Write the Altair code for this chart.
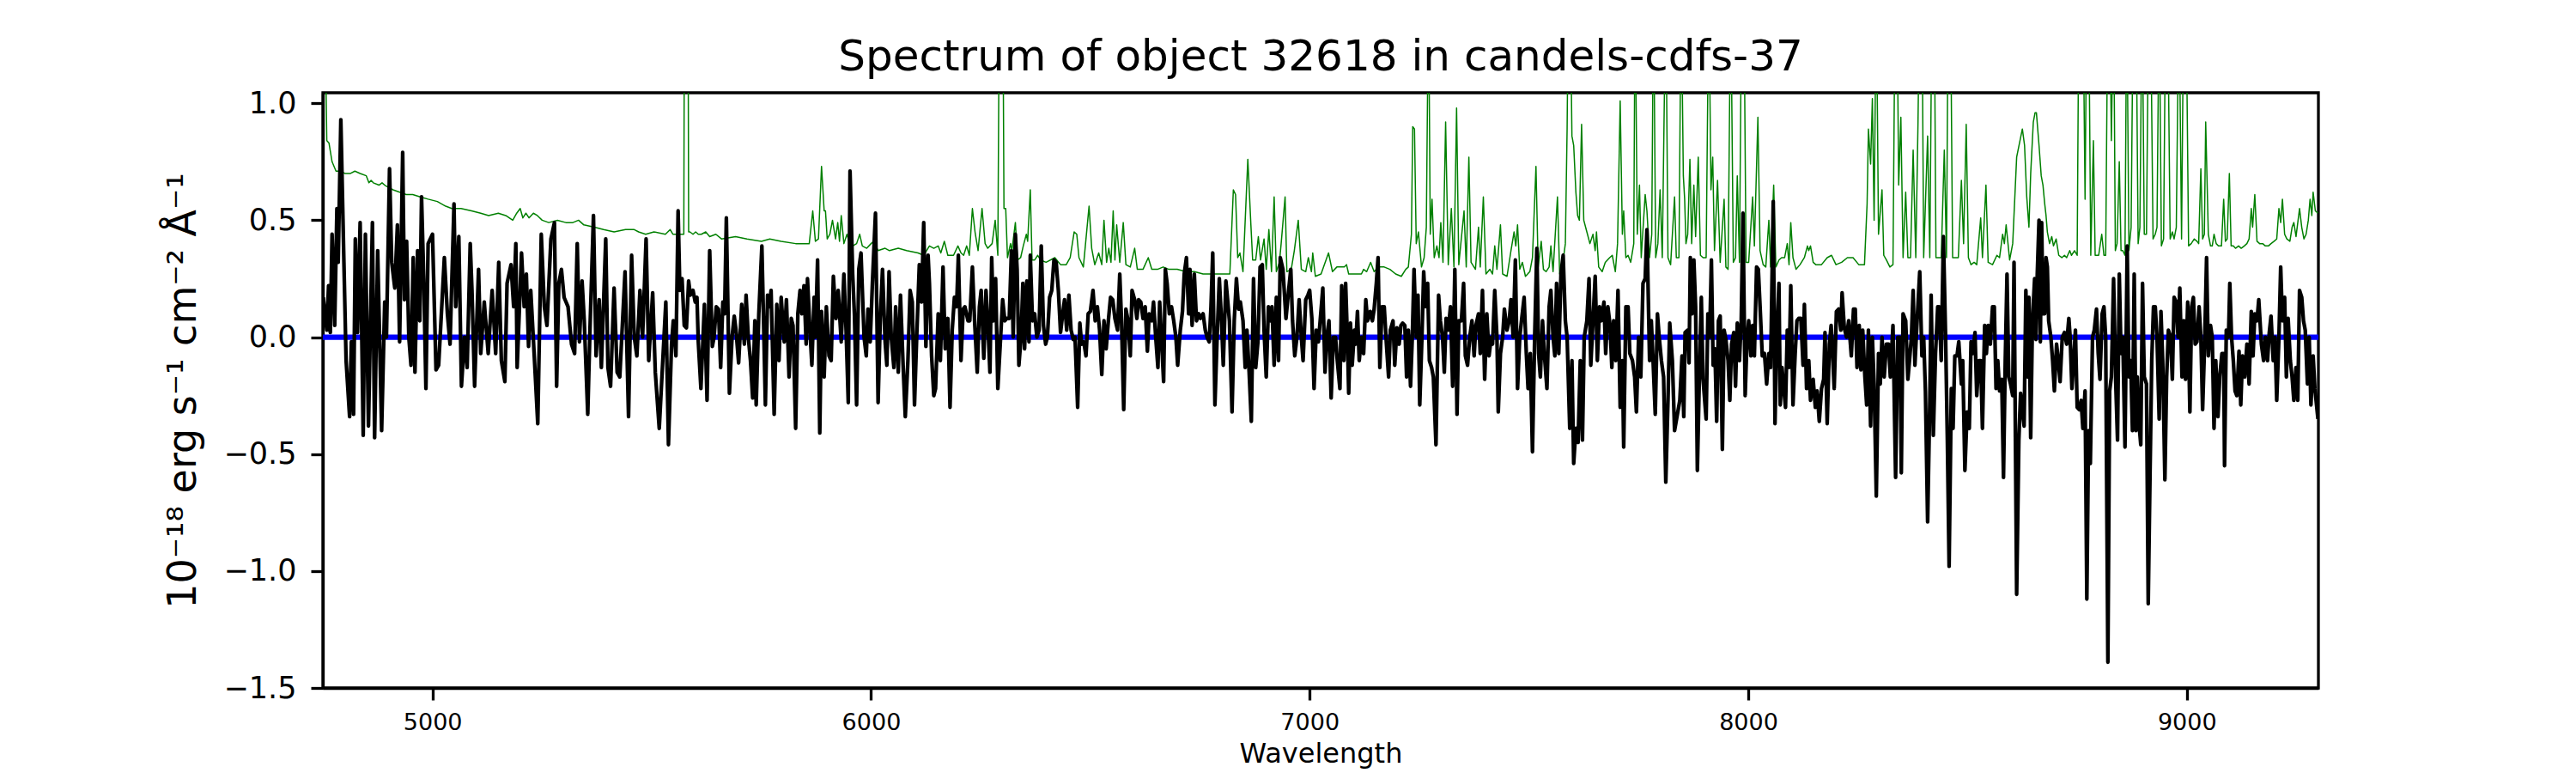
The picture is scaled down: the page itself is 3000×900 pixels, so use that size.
import altair as alt
import pandas as pd

# ---------------- data ----------------
# observed spectrum (black)
flux_wave = [
4751,4759,4763,4767,4771,4777,4782,4785,4791,4798,4803,4811,4815,4820,4824,4829,4835,4842,4847,4854,
4863,4868,4875,4884,4891,4895,4902,4907,4914,4920,4925,4932,4936,4941,4946,4951,4956,4960,4966,4971,
4975,4980,4985,4990,5000,5008,5014,5027,5034,5040,5049,5053,5060,5066,5073,5079,5086,5090,5096,5105,
5110,5118,5127,5136,5144,5151,5157,5165,5170,5179,5185,5190,5193,5203,5209,5214,5219,5224,5232,5240,
5248,5255,5261,5270,5278,5283,5288,5294,5300,5309,5317,5324,5330,5335,5341,5346,5354,5359,5367,5373,
5380,5385,5395,5400,5406,5414,5421,5427,5439,5447,5454,5460,5466,5473,5479,5487,5493,5502,5508,5517,
5532,5538,5545,5549,5555,5560,5564,5569,5574,5579,5584,5588,5594,5599,5603,5606,5612,5620,5626,5632,
5638,5642,5647,5652,5657,5662,5666,5670,5677,5683,5688,5692,5698,5705,5711,5715,5720,5725,5730,5735,
5738,5744,5751,5756,5759,5764,5768,5772,5779,5785,5790,5795,5802,5807,5813,5818,5822,5828,5833,5838,
5842,5847,5852,5855,5860,5865,5870,5873,5878,5883,5887,5893,5898,5904,5909,5914,5920,5925,5932,5938,
5943,5948,5952,5958,5962,5967,5972,5977,5984,5989,5993,5998,6003,6010,6016,6021,6026,6032,6036,6041,
6046,6052,6056,6062,6067,6073,6078,6084,6089,6094,6099,6104,6110,6115,6120,6125,6130,6133,6138,6143,
6147,6153,6158,6164,6169,6175,6180,6185,6190,6195,6199,6205,6210,6214,6221,6225,6231,6236,6242,6247,
6251,6257,6262,6266,6271,6275,6279,6284,6289,
6300,6305,6309,6315,6320,6324,6329,6333,6337,6342,6346,6350,6355,6360,6363,6368,6373,6378,6383,6388,
6393,6398,6402,6407,6412,6417,6422,6427,6432,6437,6441,6446,6451,6456,6461,6465,6471,6476,6480,6485,
6490,6495,6500,6506,6511,6516,6521,6526,6531,6536,6541,6546,6551,6556,6562,6567,6571,6576,6581,6586,
6591,6595,6601,6606,6610,6615,6620,6625,6630,6634,6640,6644,6649,6654,6658,6662,6667,6671,6675,6680,
6685,6690,6695,6699,6705,6710,6714,6719,6724,6727,6732,6737,6742,6747,6751,6757,6762,6766,6771,6775,
6779,6784,6789,6794,6799,6803,6809,6812,6817,6823,6828,6833,6838,6842,6848,6853,6857,6862,6867,6872,
6877,6882,6887,6892,6896,6901,6906,6911,6914,6919,6924,6929,6933,6939,6942,6946,6952,6957,6961,6966,
6971,6976,6981,6985,6991,6996,7000,7005,7010,7015,7020,7024,7030,7035,7039,7044,7049,7054,7059,7063,
7069,7073,
7078,7082,7086,7089,7093,7097,7102,7105,7109,7113,7118,7123,7128,7132,7138,7143,7147,7152,7156,7160,
7165,7170,7175,7180,7184,7190,7194,7199,7204,7208,7212,7217,7221,7225,7230,7234,7238,7243,7247,7251,
7256,7260,7264,7269,7273,7278,7282,7288,7294,7298,7303,7307,7311,7316,7321,7326,7331,7336,7340,7346,
7351,7355,7360,7365,7370,7375,7379,7385,7389,7394,7399,7404,7409,7414,7417,7422,7427,7430,7435,7440,
7444,7450,7455,7459,7464,7469,7474,7479,7483,7489,7494,7498,7503,7508,7513,7518,7522,7526,7531,7535,
7541,7546,7550,7555,7559,7563,7568,7573,7578,7583,7587,7593,7598,7602,7607,7612,7617,7622,7626,7632,
7637,7641,7646,7651,7656,7661,7665,7671,7675,7680,7685,7689,7693,7698,7703,7708,7713,7716,7721,7726,
7730,7736,7741,7745,7750,7755,7760,7765,7769,7775,7779,7783,7788,7793,7797,7802,7807,7812,7817,7821,
7827,7832,
7844,7849,7853,7856,7862,7865,7868,7872,7876,7880,7884,7889,7893,7897,7904,7908,7912,7916,7920,7924,
7928,7932,7936,7941,7945,7949,7954,7958,7962,7967,7971,7975,7980,7984,7988,7993,7997,8001,8006,8010,
8014,8019,8023,8027,8032,8037,8042,8047,8051,8057,8061,8065,8070,8073,8077,8081,8085,8089,8093,8097,
8102,8107,8111,8115,8120,8125,8128,8133,8138,8142,8148,8153,8157,8162,8167,8172,8175,8180,8185,8189,
8193,8196,8201,8206,8211,8214,8219,8224,8229,8235,8240,8244,8248,8253,8257,8261,8266,8270,8274,8279,
8283,8287,8292,8297,8301,8305,8310,8315,8320,8324,8330,8336,8341,8346,8349,8353,8359,8364,8369,8372,
8376,8380,8385,8391,8396,8400,8404,8409,8414,8417,8422,8427,8432,8435,8440,8445,8450,8454,8458,8463,
8467,8471,8476,8480,8486,8489,8494,8499,8504,8508,8512,8517,8521,8526,8530,8534,8539,8543,8547,8552,
8557,8561,8565,8569,8573,8578,8582,8586,8590,8594,8598,8603,8606,8612,8617,8621,
8629,8633,8637,8640,8644,8648,8653,8656,8659,8663,8666,8669,8672,8676,8679,8682,8685,8690,8694,8698,
8703,8707,8711,8716,8721,8726,8731,8734,8738,8742,8746,8750,8755,8759,8763,8768,8772,8776,8780,8785,
8789,8794,8798,8802,8807,8811,8815,8820,8824,8828,8833,8838,8842,8846,8850,8854,8859,8864,8868,8872,
8876,8880,8884,8887,8891,8895,8899,8903,8908,8912,8916,8920,8924,8928,8932,8937,8941,8945,8950,8954,
8958,8963,8967,8971,8976,8980,8984,8989,8993,8997,9002,9007,9011,9015,9019,9023,9028,9032,9036,9041,
9045,9049,9054,9058,9062,9066,9071,9075,9080,9084,9086,9090,9095,9098,9102,9106,9110,9114,9119,9123,
9127,9132,9137,9142,9147,9151,9155,9160,9164,9170,9175,9179,9184,9188,9192,9197,9201,9205,9210,9214,
9218,9223,9227,9231,9236,9240,9244,9249,9253,9257,9262,9266,9270,9275,9279,9283,9288,9292,9299,
]
flux_value = [
0.17,0.03,0.22,0.02,0.44,0.05,0.55,0.32,0.93,0.32,-0.10,-0.34,-0.02,-0.33,0.42,0.02,0.49,-0.42,0.44,-0.38,
0.49,-0.43,0.37,-0.40,0.15,0.0,0.72,0.32,0.21,0.48,-0.02,0.79,0.16,0.41,0.0,-0.12,0.34,-0.15,0.37,0.07,
0.60,0.25,-0.22,0.40,0.44,-0.14,-0.12,0.34,0.10,-0.03,0.57,0.13,0.43,-0.21,0.0,-0.13,0.40,0.20,-0.21,0.29,
-0.07,0.15,-0.07,0.20,-0.07,0.32,-0.10,-0.19,0.23,0.31,0.13,0.40,-0.13,0.36,0.13,0.27,-0.04,0.20,-0.08,-0.37,
0.44,0.13,0.05,0.42,0.49,-0.21,0.23,0.29,0.17,0.13,-0.03,-0.07,0.40,-0.02,0.24,0.07,-0.33,0.03,0.52,-0.08,
0.16,-0.13,0.42,-0.13,-0.21,0.21,-0.15,-0.17,0.28,-0.34,0.35,0.0,-0.08,0.20,0.0,0.42,-0.10,0.19,-0.15,-0.39,
0.15,-0.46,-0.03,0.07,-0.08,0.54,0.20,0.25,0.05,0.04,0.24,0.18,0.20,0.15,0.17,-0.02,-0.22,0.14,-0.27,0.37,
-0.04,0.0,0.13,0.12,-0.13,0.15,0.10,0.51,-0.24,0.0,0.09,0.03,-0.11,0.14,-0.03,0.18,0.0,-0.10,-0.26,0.07,
-0.29,0.10,0.39,-0.03,-0.29,0.18,0.13,0.20,-0.33,0.14,-0.10,0.17,-0.02,0.16,-0.17,0.08,0.05,-0.39,0.10,0.20,
0.10,0.22,-0.03,0.25,0.05,-0.12,0.17,0.0,0.33,-0.41,0.11,-0.17,0.13,-0.08,-0.10,0.26,0.08,0.20,-0.02,0.27,
0.03,-0.28,0.71,0.27,0.10,-0.29,0.29,0.36,0.0,-0.08,0.12,-0.02,0.23,0.53,-0.28,0.08,0.29,-0.02,-0.12,0.28,
0.0,-0.13,0.13,-0.15,0.18,-0.12,-0.34,-0.10,0.20,0.15,-0.29,0.0,0.31,0.15,0.49,-0.04,0.35,0.23,-0.08,-0.25,
-0.22,0.10,-0.10,0.30,-0.05,0.08,-0.30,0.03,0.17,0.13,0.35,-0.10,0.12,0.13,0.07,0.07,0.30,0.07,-0.15,0.13,
0.20,-0.09,0.20,0.07,-0.15,0.34,0.07,0.25,-0.22,
0.16,0.07,0.08,0.08,0.37,0.0,0.44,0.29,-0.12,0.0,0.23,-0.05,0.24,-0.02,0.35,0.07,0.10,0.0,0.03,0.39,
0.05,-0.03,0.0,0.17,0.20,0.33,0.32,0.20,0.02,0.10,0.16,0.03,0.18,0.03,-0.01,0.0,-0.30,0.06,-0.03,-0.02,
-0.08,0.10,0.11,0.20,0.07,0.13,0.03,-0.16,0.07,-0.05,0.07,0.17,0.16,0.08,0.03,0.27,0.07,-0.31,0.12,0.07,
-0.08,0.20,0.16,0.08,0.16,0.15,0.08,0.13,-0.06,0.10,0.07,0.15,0.0,-0.13,0.15,0.0,-0.19,0.29,0.23,0.10,
0.13,0.07,0.0,-0.12,0.03,0.11,0.27,0.34,0.10,0.29,0.05,0.27,0.07,0.10,0.08,0.10,0.03,0.0,-0.02,0.13,
0.36,-0.29,0.0,0.25,0.07,-0.12,0.24,0.18,0.07,-0.32,0.07,0.25,0.12,0.15,0.07,-0.13,0.03,-0.15,-0.36,0.25,
-0.13,-0.02,0.30,0.31,0.03,-0.17,0.13,0.07,0.13,-0.12,0.17,-0.10,0.34,0.29,0.20,0.08,0.20,0.29,0.07,-0.08,
0.0,0.16,0.0,-0.10,0.16,0.18,0.20,0.08,-0.22,0.03,-0.02,0.07,0.21,-0.15,0.0,0.07,-0.26,0.0,0.0,-0.10,
-0.22,0.22,
-0.10,0.23,0.0,-0.24,0.06,-0.12,0.03,-0.03,0.11,-0.10,0.0,-0.07,0.16,0.07,0.11,0.07,0.12,0.23,0.34,-0.13,
0.13,0.13,-0.03,-0.17,0.03,0.07,-0.12,0.04,-0.03,0.05,0.06,0.05,-0.17,0.03,-0.21,0.0,0.29,0.0,0.18,-0.29,
0.0,0.28,0.13,0.23,-0.10,-0.13,-0.17,-0.46,0.18,0.07,0.0,-0.15,0.08,0.03,0.13,-0.21,0.29,-0.33,0.07,0.07,
0.23,-0.08,-0.12,0.0,0.07,-0.08,0.05,0.10,-0.07,0.20,-0.18,0.10,-0.08,0.0,-0.03,0.20,0.0,-0.32,-0.07,0.0,
0.12,0.03,0.07,0.16,0.0,0.33,-0.22,0.0,0.07,0.17,-0.07,-0.22,-0.07,-0.49,0.0,0.38,-0.07,-0.17,0.07,-0.07,
-0.22,0.13,0.20,0.0,-0.08,0.23,-0.07,0.27,0.35,0.07,0.0,-0.39,-0.10,-0.54,-0.39,-0.45,-0.10,-0.44,0.0,0.07,
0.25,-0.12,0.07,0.26,-0.10,0.13,0.07,0.15,-0.07,0.13,0.05,-0.13,0.07,-0.10,0.20,-0.30,-0.10,-0.47,0.13,0.13,
-0.07,-0.10,-0.17,-0.32,0.0,-0.17,0.23,0.25,0.46,-0.10,0.07,-0.10,-0.33,0.10,0.0,-0.10,-0.17,-0.62,-0.27,0.06,
-0.10,-0.40,
-0.27,-0.08,-0.34,0.02,0.03,-0.11,0.34,0.10,0.33,0.13,-0.57,-0.13,0.17,-0.18,-0.35,0.10,0.0,0.33,-0.12,-0.05,
-0.36,0.07,0.09,-0.48,0.03,-0.01,-0.10,-0.27,-0.03,0.02,-0.21,0.06,-0.10,0.07,0.53,-0.25,-0.02,0.07,-0.08,0.05,
-0.08,0.30,0.29,0.13,-0.08,-0.07,-0.20,-0.07,-0.13,0.58,-0.37,0.0,0.23,-0.29,-0.13,-0.22,-0.30,0.03,-0.13,0.22,
-0.29,-0.07,0.07,0.08,0.08,-0.12,0.14,-0.22,-0.10,-0.27,-0.18,-0.30,-0.23,-0.36,-0.22,-0.18,0.02,-0.37,-0.03,0.05,
-0.10,-0.22,0.11,0.12,0.03,0.19,0.04,0.0,0.07,-0.08,0.12,0.12,-0.13,0.05,-0.14,0.03,-0.17,-0.29,0.03,-0.38,
0.0,-0.20,-0.68,-0.07,-0.20,0.0,-0.17,-0.03,-0.03,-0.17,0.05,-0.60,0.0,0.0,-0.58,0.10,0.07,-0.18,-0.07,0.0,
0.20,-0.12,0.07,0.28,-0.08,0.0,-0.23,-0.79,-0.27,0.18,-0.42,-0.07,0.13,0.13,-0.10,0.43,0.0,-0.44,-0.98,-0.22,
-0.39,-0.08,-0.08,-0.02,-0.20,-0.10,-0.57,-0.32,-0.39,-0.02,-0.07,0.02,-0.25,-0.10,-0.10,-0.39,0.05,-0.07,0.05,-0.03,
0.13,0.13,-0.22,-0.10,-0.23,-0.18,-0.60,-0.10,0.27,-0.17,-0.20,-0.25,0.32,-1.10,-0.44,-0.24,
-0.38,0.20,-0.17,0.17,-0.43,0.07,0.25,-0.01,0.27,0.50,-0.02,0.49,0.10,0.10,0.34,0.30,0.07,0.0,-0.10,-0.23,
-0.03,-0.10,-0.19,0.0,0.02,-0.03,0.08,0.0,-0.22,-0.10,0.03,-0.30,-0.31,-0.27,-0.39,-0.23,-1.12,-0.40,-0.54,0.0,
0.03,0.12,-0.07,-0.18,0.10,0.13,0.0,-1.39,-0.23,-0.17,0.25,-0.20,-0.44,0.27,-0.07,0.0,-0.47,0.39,-0.17,-0.10,
-0.40,0.27,-0.40,-0.17,-0.37,-0.46,0.23,-0.17,-0.20,-1.14,-0.60,-0.10,0.13,0.13,0.0,-0.35,0.11,-0.10,-0.61,-0.17,
0.03,0.0,-0.18,0.17,0.15,0.0,0.21,-0.17,0.07,-0.18,0.15,-0.32,0.13,0.17,-0.03,-0.02,0.13,0.0,-0.31,0.0,
0.34,-0.08,0.05,0.0,-0.39,-0.10,-0.34,-0.17,-0.07,-0.07,-0.55,0.03,0.0,0.23,0.0,-0.10,-0.23,-0.25,-0.06,-0.29,
-0.08,-0.17,-0.03,-0.20,0.11,-0.08,0.10,0.07,0.16,-0.03,-0.10,0.0,-0.10,0.02,0.09,-0.10,0.0,-0.27,0.0,0.30,
0.07,0.17,-0.17,0.08,-0.10,-0.17,-0.27,-0.13,-0.27,0.20,0.17,0.07,0.03,-0.20,0.0,-0.29,-0.08,-0.22,-0.35,
]

# noise / sky spectrum (green)
sky_wave = [
4750,4757,4759,4764,4771,4780,4790,4800,4813,4823,4835,4849,4855,4860,4865,4878,4885,4891,4900,4910,
4925,4940,4955,4972,4990,5011,5030,5044,5065,5089,5110,5128,5150,5167,5183,5192,5200,5206,5213,5220,
5230,5239,5250,5265,5285,5304,5320,5333,5345,5369,5390,5414,5440,5460,5470,5486,5505,5531,
5542,5548,5571,5573,5575,5582,5584,5587,5594,5600,5606,5613,5623,5632,5646,5659,5691,5717,5750,5769,
5795,5828,5859,5867,5873,5880,5887,5893,5896,5900,5906,5912,5919,5924,5928,5932,5938,5945,5951,5958,
5967,5974,5980,5990,6000,6006,6016,6032,6042,6062,6081,6107,6120,6133,6143,6153,6159,6167,6175,6188,
6198,6205,6211,6218,6224,6231,6237,6244,6253,6260,6266,6276,6283,6289,6294,6299,
6303,6307,6311,6318,6321,6329,6334,6341,6347,6354,6357,6363,6367,6373,6380,6386,6399,6419,6432,6445,
6454,6463,6469,6474,6484,6497,6503,6510,6519,6526,6531,6537,6542,6547,6552,6556,6560,6567,6575,6581,
6591,6601,6607,6620,6632,6640,6653,6666,6679,6698,6718,6737,6757,6783,6818,6826,6831,6836,6841,6848,
6859,6866,6870,6877,6883,6888,6896,6901,6907,6913,6919,6924,6931,6935,6944,6948,6958,6965,6974,6981,
6991,6997,7004,7007,7013,7026,7043,7052,7062,
7079,7084,7089,7105,7118,7123,7130,7139,7147,7157,7170,7183,7196,7209,7219,7225,7232,7235,7239,7243,
7248,7255,7261,7266,7271,7275,7279,7284,7290,7295,7299,7304,7310,7316,7323,7329,7335,7340,7352,7357,
7363,7368,7378,7385,7389,7396,7402,7411,7417,7422,7427,7435,7440,7450,7459,7466,7470,7474,7479,7485,
7492,7502,7508,7516,7521,7528,7533,7539,7546,7550,7555,7565,7570,7576,7583,7587,7590,7594,7598,7602,
7607,7611,7615,7620,7625,7632,7639,7646,7651,7654,7659,7667,7674,7684,7690,7697,7702,7708,7713,7716,
7721,7726,7732,7739,7742,7747,7752,7756,7765,7769,7775,7780,7784,7789,7794,7799,7804,7812,7817,7823,
7832,7836,
7842,7847,7852,7855,7858,7862,7867,7871,7876,7880,7886,7891,7897,7904,7910,7915,7919,7923,7930,7936,
7945,7949,7954,7960,7966,7971,7975,7980,7985,7990,7995,8001,8010,8014,8022,8027,8034,8040,8047,8051,
8058,8063,8070,8076,8083,8089,8093,8097,8102,8109,8118,8128,8135,8138,8142,8148,8154,8167,8180,8190,
8200,8213,8226,8239,8252,8265,8271,8274,8279,8283,8287,8292,8297,8305,8309,8315,8323,8330,8335,8339,
8343,8348,8353,8359,8364,8370,8376,8382,8387,8391,8396,8400,8409,8414,8419,8424,8428,8435,8440,8447,
8452,8456,8461,8466,8473,8479,8486,8491,8497,8502,8508,8515,8521,8530,8534,8542,8547,8557,8567,8573,
8580,8584,8588,8596,8603,8612,
8625,8630,8635,8640,8644,8650,8654,8657,8663,8668,8672,8676,8679,8682,8687,8692,8696,8702,8708,8715,
8721,8726,8733,8737,8744,8750,8754,8759,8763,8768,8772,8776,8781,8787,8791,8799,8806,8811,8815,8820,
8824,8828,8833,8837,8841,8846,8850,8854,8859,8863,8868,8873,8878,8884,8889,8893,8898,8903,8908,8913,
8917,8923,8928,8932,8937,8942,8947,8952,8956,8962,8967,8971,8976,8982,8988,8993,8998,9004,9010,9017,
9023,9027,9032,9036,9040,9043,9049,9054,9058,9062,9067,9072,9079,9084,9088,9092,9097,9101,9106,9111,
9118,9124,9131,9137,9142,9147,9150,9155,9160,9166,9173,9179,9186,9192,9199,9205,9210,9214,9218,9223,
9228,9235,9240,9244,9249,9253,9257,9262,9267,9272,9277,9281,9285,9288,9293,9299,
]
sky_value = [
1.5,1.1,0.84,0.83,0.75,0.71,0.71,0.70,0.70,0.71,0.70,0.69,0.66,0.67,0.66,0.65,0.66,0.65,0.64,0.63,
0.62,0.61,0.61,0.60,0.59,0.58,0.56,0.55,0.55,0.54,0.53,0.52,0.53,0.52,0.50,0.53,0.55,0.51,0.53,0.51,
0.53,0.52,0.50,0.49,0.50,0.49,0.49,0.50,0.48,0.47,0.46,0.45,0.46,0.46,0.45,0.44,0.45,0.44,
0.46,0.44,0.44,0.44,2.0,2.0,0.45,0.45,0.44,0.45,0.44,0.44,0.45,0.43,0.44,0.42,0.43,0.42,0.41,0.42,
0.41,0.40,0.40,0.54,0.41,0.42,0.73,0.54,0.54,0.42,0.44,0.50,0.42,0.49,0.41,0.52,0.40,0.44,0.40,0.39,
0.40,0.44,0.39,0.38,0.40,0.41,0.37,0.38,0.37,0.38,0.37,0.36,0.35,0.39,0.38,0.39,0.36,0.41,0.35,0.35,
0.39,0.36,0.35,0.39,0.35,0.55,0.45,0.37,0.55,0.40,0.38,0.40,0.50,0.35,2.0,2.0,
0.55,0.55,0.34,0.40,0.37,0.49,0.33,0.34,0.39,0.44,0.41,0.63,0.33,0.33,0.35,0.33,0.32,0.34,0.31,0.31,
0.34,0.45,0.44,0.34,0.30,0.56,0.38,0.31,0.36,0.31,0.50,0.32,0.38,0.32,0.54,0.33,0.48,0.32,0.49,0.31,
0.30,0.38,0.29,0.29,0.34,0.29,0.29,0.30,0.29,0.29,0.28,0.28,0.27,0.27,0.27,0.63,0.61,0.34,0.36,0.28,
0.76,0.48,0.33,0.33,0.43,0.33,0.42,0.29,0.46,0.28,0.60,0.28,0.32,0.40,0.60,0.28,0.29,0.37,0.50,0.29,
0.28,0.34,0.28,0.36,0.26,0.27,0.36,0.28,0.30,
0.30,0.31,0.27,0.27,0.27,0.29,0.28,0.32,0.28,0.30,0.30,0.29,0.27,0.26,0.29,0.30,0.44,0.90,0.89,0.40,
0.45,0.30,0.34,0.47,1.5,0.44,0.59,0.34,0.39,0.34,0.49,0.32,0.92,0.31,0.55,0.30,0.98,0.31,0.54,0.30,
0.77,0.32,0.29,0.47,0.30,0.60,0.27,0.29,0.27,0.39,0.29,0.48,0.27,0.26,0.37,0.45,0.39,0.48,0.29,0.32,
0.26,0.28,0.34,0.73,0.30,0.41,0.29,0.28,0.30,0.39,0.28,0.60,0.27,0.30,0.40,0.89,1.5,1.5,0.86,0.82,
0.62,0.52,0.50,0.91,0.50,0.45,0.40,0.44,0.37,0.45,0.30,0.28,0.32,0.34,0.35,0.28,0.40,1.01,0.44,0.54,
0.34,0.35,0.32,0.40,1.5,0.44,0.65,0.34,0.61,0.54,0.34,0.44,1.5,0.34,0.40,0.63,0.34,1.5,0.34,0.31,
0.60,0.34,
0.34,1.5,0.69,0.59,0.40,0.44,0.76,0.40,0.65,0.43,0.77,0.35,0.34,0.34,1.5,0.63,0.77,0.37,0.67,0.32,
0.59,0.30,0.29,1.5,0.32,0.34,0.69,0.32,1.5,1.5,0.32,0.32,0.60,0.39,0.94,0.37,0.31,0.30,0.50,0.30,
0.65,0.30,0.33,0.34,0.34,0.40,0.31,0.49,0.34,0.29,0.31,0.34,0.39,0.37,0.39,0.32,0.31,0.31,0.34,0.35,
0.31,0.32,0.34,0.34,0.31,0.31,0.57,0.89,0.74,1.02,0.50,1.5,0.44,0.63,0.35,0.33,0.30,0.31,1.5,1.5,
0.65,0.94,0.34,0.62,0.34,0.34,0.80,0.34,0.91,1.5,1.5,0.34,0.86,0.34,1.5,1.5,0.34,0.34,0.34,0.80,
0.34,1.5,1.5,0.34,0.34,0.34,0.67,0.40,0.91,0.34,0.31,0.32,0.31,0.51,0.34,0.65,0.32,0.31,0.35,0.34,
0.44,0.40,0.48,0.33,0.40,0.77,
0.89,0.82,0.60,0.47,0.70,0.92,0.96,0.96,0.82,0.69,0.65,0.57,0.52,0.45,0.40,0.43,0.39,0.42,0.35,0.34,
0.35,0.34,0.37,0.35,0.37,0.35,1.5,1.5,1.5,0.59,1.5,1.5,0.35,0.84,0.35,0.35,0.44,0.35,0.35,1.5,
1.5,0.84,1.5,0.37,0.40,0.75,0.37,0.37,0.35,1.5,0.37,0.47,1.5,1.5,0.40,0.47,1.5,0.44,0.44,1.5,
1.5,0.42,0.44,0.47,1.5,0.39,0.42,1.5,1.5,0.42,0.45,0.42,0.47,1.5,0.42,1.5,1.5,0.39,0.40,0.42,
0.41,0.40,0.72,0.42,0.44,0.92,0.44,0.39,0.39,0.44,0.40,0.39,0.39,0.59,0.41,0.42,0.70,0.39,0.39,0.38,
0.39,0.38,0.39,0.40,0.42,0.55,0.47,0.61,0.41,0.40,0.40,0.39,0.39,0.40,0.41,0.42,0.55,0.49,0.59,0.44,
0.42,0.41,0.47,0.49,0.43,0.49,0.55,0.47,0.42,0.44,0.50,0.59,0.52,0.62,0.54,0.53,
]

# model (blue), flat at zero over the whole range
model_wave = [4750, 9300]
model_value = [0.0, 0.0]

title_text = "Spectrum of object 32618 in candels-cdfs-37"
x_title = "Wavelength"
y_title = "10⁻¹⁸ erg s⁻¹ cm⁻² Å⁻¹"
x_ticks = [5000, 6000, 7000, 8000, 9000]
y_ticks = [-1.5, -1.0, -0.5, 0.0, 0.5, 1.0]

# ---------------- chart ----------------
flux_df = pd.DataFrame({"wave": flux_wave, "flux": flux_value})
sky_df = pd.DataFrame({"wave": sky_wave, "flux": sky_value})
model_df = pd.DataFrame({"wave": model_wave, "flux": model_value})

FONT = "DejaVu Sans"

x_enc = alt.X(
    "wave:Q",
    scale=alt.Scale(domain=[4750, 9300], nice=False, zero=False),
    axis=alt.Axis(
        values=x_ticks, format="d", grid=False,
        labelFont=FONT, labelFontSize=27, labelColor="black", labelPadding=13,
        tickColor="black", tickWidth=3.3, tickSize=14,
        domainColor="black", domainWidth=3.3,
        title=x_title, titleFont=FONT, titleFontSize=32, titleFontWeight="normal",
        titleColor="black", titleBaseline="alphabetic", titleY=86,
    ),
)
y_enc = alt.Y(
    "flux:Q",
    scale=alt.Scale(domain=[-1.5, 1.045], nice=False, zero=False),
    axis=alt.Axis(
        values=y_ticks, format=".1f", grid=False,
        labelFont=FONT, labelFontSize=35, labelColor="black", labelPadding=17,
        tickColor="black", tickWidth=3.3, tickSize=14,
        domainColor="black", domainWidth=3.3,
        title=y_title, titleFont=FONT, titleFontSize=46, titleFontWeight="normal",
        titleColor="black", titleAngle=270, titleAlign="center",
        titleBaseline="alphabetic", titleX=-149, titleY=346.5,
    ),
)

sky = alt.Chart(sky_df).mark_line(
    color="#008000", strokeWidth=1.5, clip=True, strokeJoin="round"
).encode(x=x_enc, y=y_enc)

model = alt.Chart(model_df).mark_line(
    color="#0000ff", strokeWidth=6.2, clip=True
).encode(x=x_enc, y=y_enc)

flux = alt.Chart(flux_df).mark_line(
    color="black", strokeWidth=4.3, clip=True, strokeJoin="round"
).encode(x=x_enc, y=y_enc)

chart = (
    alt.layer(sky, model, flux)
    .properties(
        width=2324,
        height=693,
        title=alt.TitleParams(
            text=title_text, font=FONT, fontSize=50, fontWeight="normal",
            color="black", anchor="middle", frame="group",
            baseline="alphabetic", offset=25, dy=54,
        ),
        padding={"left": 368, "top": 100, "right": 290, "bottom": 95},
        autosize=alt.AutoSizeParams(type="none"),
    )
    .configure(background="white")
    .configure_view(stroke="black", strokeWidth=3.3)
)

chart.save("out.html", embed_options={"renderer": "svg", "actions": False})
